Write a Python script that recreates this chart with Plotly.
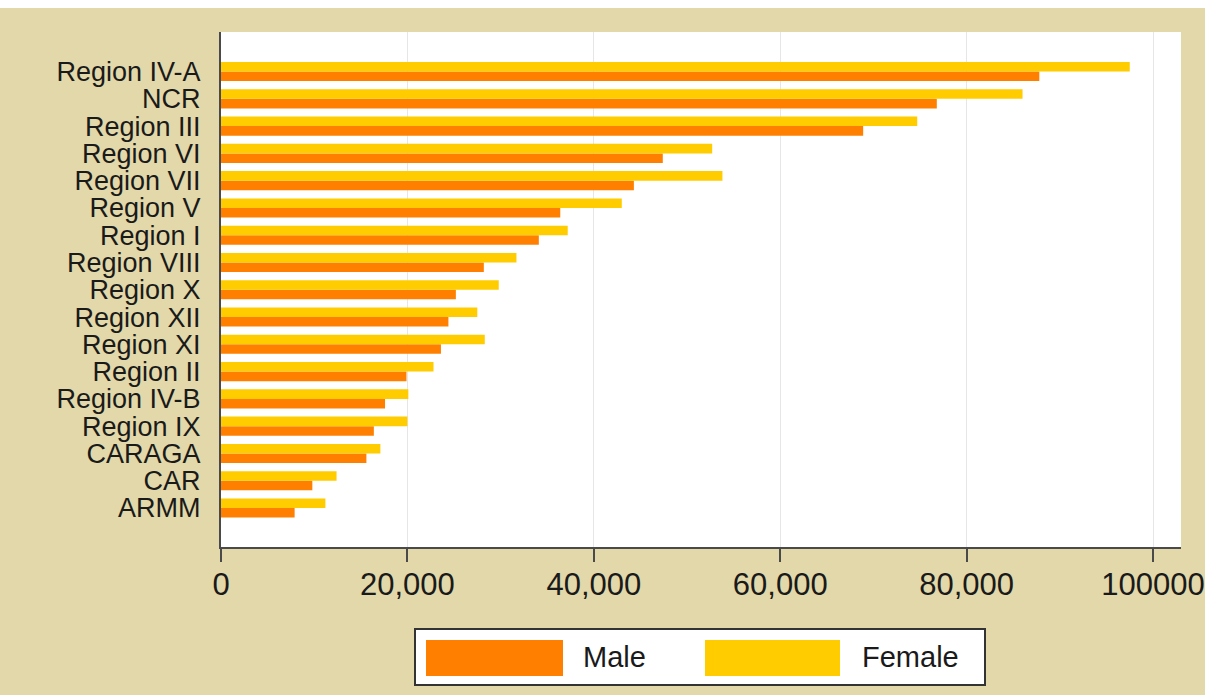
import plotly.graph_objects as go

# ---------------- data ----------------
regions = ["ARMM", "CAR", "CARAGA", "Region IX", "Region IV-B", "Region II",
           "Region XI", "Region XII", "Region X", "Region VIII", "Region I",
           "Region V", "Region VII", "Region VI", "Region III", "NCR", "Region IV-A"]
male = [7900, 9800, 15600, 16400, 17600, 19900, 23600, 24400, 25200, 28200,
        34100, 36400, 44300, 47400, 68900, 76800, 87800]
female = [11200, 12400, 17100, 20000, 20100, 22800, 28300, 27500, 29800, 31700,
          37200, 43000, 53800, 52700, 74700, 86000, 97500]
x_tickvals = [0, 20000, 40000, 60000, 80000, 100000]
x_ticktext = ["0", "20,000", "40,000", "60,000", "80,000", "100000"]
series_names = ["Male", "Female"]

# ---------------- style ----------------
W, H = 1205, 695
L, R, T, B = 221, 24, 32, 148
MALE_C = "#FF8000"
FEMALE_C = "#FFCC00"
TAN = "#E2D8A9"
AXIS_C = "#4a4a4a"
TXT = "#1a1a1a"
FONT = "Liberation Sans, Arial, sans-serif"


def px_x(px):
    return (px - L) / (W - L - R)


def px_y(py):
    return (H - B - py) / (H - T - B)


fig = go.Figure()
fig.add_trace(go.Bar(y=regions, x=male, name=series_names[0], orientation="h",
                     marker=dict(color=MALE_C, line=dict(width=0)), showlegend=False))
fig.add_trace(go.Bar(y=regions, x=female, name=series_names[1], orientation="h",
                     marker=dict(color=FEMALE_C, line=dict(width=0)), showlegend=False))

shapes = [
    # white strip at very top
    dict(type="rect", xref="paper", yref="paper", x0=px_x(0), x1=px_x(W),
         y0=px_y(8), y1=px_y(0), fillcolor="white", line=dict(width=0), layer="below"),
    # legend box
    dict(type="rect", xref="paper", yref="paper", x0=px_x(415), x1=px_x(985),
         y0=px_y(685), y1=px_y(629), fillcolor="white", line=dict(color="#333333", width=2)),
    dict(type="rect", xref="paper", yref="paper", x0=px_x(426), x1=px_x(563),
         y0=px_y(676), y1=px_y(640), fillcolor=MALE_C, line=dict(width=0)),
    dict(type="rect", xref="paper", yref="paper", x0=px_x(705), x1=px_x(840),
         y0=px_y(676), y1=px_y(640), fillcolor=FEMALE_C, line=dict(width=0)),
]
annotations = [
    dict(text=series_names[0], xref="paper", yref="paper", x=px_x(581), y=px_y(657),
         xanchor="left", yanchor="middle", showarrow=False,
         font=dict(size=29, color=TXT, family=FONT)),
    dict(text=series_names[1], xref="paper", yref="paper", x=px_x(860), y=px_y(657),
         xanchor="left", yanchor="middle", showarrow=False,
         font=dict(size=29, color=TXT, family=FONT)),
]

fig.update_layout(
    width=W, height=H,
    margin=dict(l=L, r=R, t=T, b=B, pad=0, autoexpand=False),
    paper_bgcolor=TAN,
    plot_bgcolor="white",
    barmode="group",
    bargap=0.30,
    bargroupgap=0.0,
    showlegend=False,
    font=dict(family=FONT, color=TXT),
    shapes=shapes,
    annotations=annotations,
    xaxis=dict(
        range=[0, 103000],
        tickmode="array", tickvals=x_tickvals, ticktext=x_ticktext,
        showgrid=True, gridcolor="#e6e6e6", gridwidth=1,
        zeroline=False, automargin=False,
        showline=True, linecolor=AXIS_C, linewidth=2,
        ticks="outside", ticklen=13, tickwidth=2, tickcolor=AXIS_C,
        ticklabelstandoff=-4,
        tickfont=dict(size=31, color=TXT, family=FONT),
    ),
    yaxis=dict(
        type="category",
        range=[-1.43, 17.45],
        tickmode="array", tickvals=regions, ticktext=regions,
        showgrid=False, zeroline=False, automargin=False,
        showline=True, linecolor=AXIS_C, linewidth=2,
        ticks="", ticklabelstandoff=13,
        tickfont=dict(size=27, color=TXT, family=FONT),
    ),
)

fig.write_html(
    "out.html",
    config={"displayModeBar": False},
    post_script="document.body.style.margin='0';document.body.style.padding='0';"
                "document.documentElement.style.overflow='hidden';",
)
